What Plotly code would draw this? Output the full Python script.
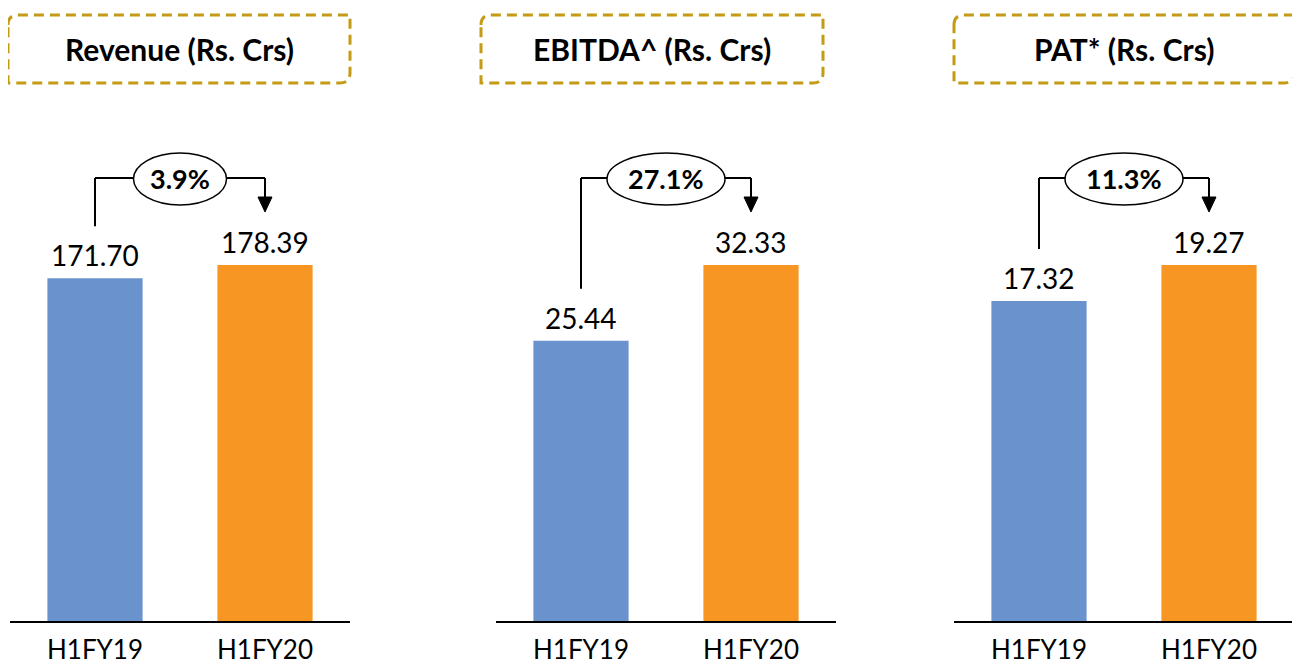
import plotly.graph_objects as go

# ---------------- data ----------------
categories = ["H1FY19", "H1FY20"]
titles = ["Revenue (Rs. Crs)", "EBITDA^ (Rs. Crs)", "PAT* (Rs. Crs)"]
h1fy19 = [171.70, 25.44, 17.32]
h1fy20 = [178.39, 32.33, 19.27]
growth = ["3.9%", "27.1%", "11.3%"]

# ---------------- style ----------------
OFF = 8                      # default page body margin
W, H = 1300 - OFF, 665 - OFF
BLUE = "#6A93CD"
ORANGE = "#F79623"
GOLD = "#C49B14"
FONT = "Lato"

x_px = [(10, 350), (496, 836), (954, 1294)]   # panel horizontal extents (screen px)
box_px = [(8, 350), (481, 823), (954, 1294)]   # title boxes (screen px)
PB, PT = 621, 150                               # plot bottom / top (screen px)
plot_h = PB - PT
cat_px = (x_px[0][1] - x_px[0][0]) / 2.0        # px per category unit
HEAD = 471.0 / 356.0                            # headroom factor over tallest bar


def X(v):
    return (v - OFF) / W


def Y(v):
    return 1 - (v - OFF) / H


fig = go.Figure()
shapes, annos = [], []

for i in range(3):
    sfx = "" if i == 0 else str(i + 1)
    xa, ya = "x" + sfx, "y" + sfx
    ymax = max(h1fy19[i], h1fy20[i]) * HEAD
    pxu = plot_h / ymax
    vals = [h1fy19[i], h1fy20[i]]

    fig.add_trace(go.Bar(
        x=categories, y=vals, marker_color=[BLUE, ORANGE], marker_line_width=0,
        width=0.56, xaxis=xa, yaxis=ya, showlegend=False, hoverinfo="x+y"))

    fig.update_layout(**{
        ("xaxis" + sfx): dict(domain=[X(x_px[i][0]), X(x_px[i][1])], anchor=ya,
                               range=[-0.5, 1.5], showline=True, linecolor="black",
                               linewidth=2, ticks="", showgrid=False, zeroline=False,
                               ticklabelstandoff=5, automargin=False,
                               tickfont=dict(family=FONT, size=26, color="black"),
                               fixedrange=True),
        ("yaxis" + sfx): dict(domain=[Y(PB), Y(PT)], anchor=xa, range=[0, ymax],
                               visible=False, showgrid=False, fixedrange=True,
                               automargin=False),
    })

    # value labels
    for c, v in zip(categories, vals):
        annos.append(dict(x=c, y=v, xref=xa, yref=ya, text=f"{v:.2f}", showarrow=False,
                          yanchor="middle", yshift=23,
                          font=dict(family=FONT, size=28, color="black")))

    # connector
    def d(px_from_bottom):
        return px_from_bottom / pxu
    y_h = d(PB - 178)
    y_lb = h1fy19[i] + d(52)
    y_tip = h1fy20[i] + d(53)
    y_base = y_tip + d(15)
    w = 25 * len(growth[i]) - 7
    ex0 = 0.5 - (w / 2) / cat_px
    ex1 = 0.5 + (w / 2) / cat_px
    line = dict(color="black", width=2)
    shapes += [
        dict(type="line", xref=xa, yref=ya, x0=0, x1=0, y0=y_lb, y1=y_h, line=line),
        dict(type="line", xref=xa, yref=ya, x0=0, x1=ex0, y0=y_h, y1=y_h, line=line),
        dict(type="line", xref=xa, yref=ya, x0=ex1, x1=1, y0=y_h, y1=y_h, line=line),
        dict(type="line", xref=xa, yref=ya, x0=1, x1=1, y0=y_h, y1=y_base, line=line),
        dict(type="path", xref=xa, yref=ya,
             path=f"M {1 - 7 / cat_px},{y_base} L {1 + 7 / cat_px},{y_base} L 1,{y_tip} Z",
             fillcolor="black", line=dict(color="black", width=1)),
        dict(type="circle", xref=xa, yref=ya, x0=ex0, x1=ex1,
             y0=d(PB - 205), y1=d(PB - 153), fillcolor="white",
             line=dict(color="black", width=1.5), layer="above"),
    ]
    annos.append(dict(x=0.5, y=y_h, xref=xa, yref=ya, text=f"<b>{growth[i]}</b>",
                      showarrow=False, yanchor="middle",
                      font=dict(family=FONT, size=27, color="black")))

    # title box (rounded top-left & bottom-right corners)
    bx0, bx1 = box_px[i]
    by0, by1 = 15, 83
    r = 10
    path = (f"M {X(bx0)},{Y(by0 + r)} Q {X(bx0)},{Y(by0)} {X(bx0 + r)},{Y(by0)} "
            f"L {X(bx1)},{Y(by0)} L {X(bx1)},{Y(by1 - r)} "
            f"Q {X(bx1)},{Y(by1)} {X(bx1 - r)},{Y(by1)} L {X(bx0)},{Y(by1)} Z")
    shapes.append(dict(type="path", xref="paper", yref="paper", path=path,
                       line=dict(color=GOLD, width=3, dash="10px,6px")))
    annos.append(dict(x=X((bx0 + bx1) / 2), y=Y((by0 + by1) / 2), xref="paper", yref="paper",
                      text=f"<b>{titles[i]}</b>", showarrow=False, xanchor="center",
                      yanchor="middle", font=dict(family=FONT, size=30, color="black")))

fig.update_layout(width=W, height=H, margin=dict(l=0, r=0, t=0, b=0),
                  paper_bgcolor="white", plot_bgcolor="white",
                  shapes=shapes, annotations=annos, bargap=0.44)

fig.write_html("out.html", config={"displayModeBar": False})
